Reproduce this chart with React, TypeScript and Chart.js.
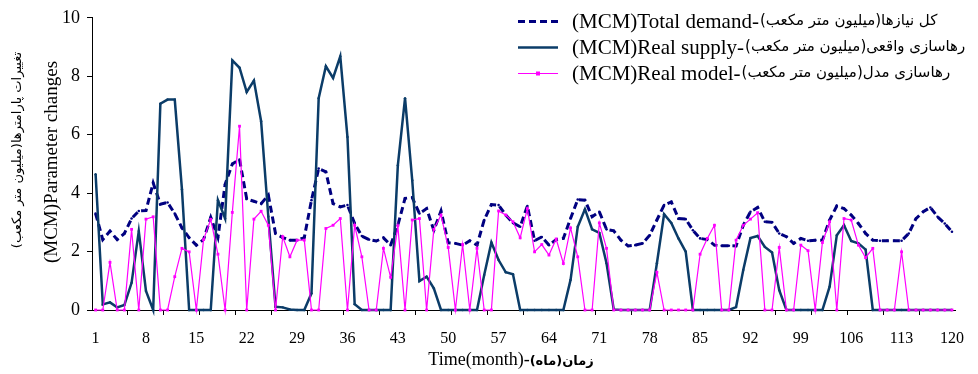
import React, { useEffect, useRef } from 'react';
import { Chart, registerables } from 'chart.js';

Chart.register(...registerables);

const months: number[] = Array.from({ length: 120 }, (_, i) => i + 1);
const xLabelTicks = [1, 8, 15, 22, 29, 36, 43, 50, 57, 64, 71, 78, 85, 92, 99, 106, 113, 120];
const xMarkTicks = [5.5, 10.5, 15.5, 20.5, 25.5, 30.5, 35.5, 40.5, 45.5, 50.5, 55.5, 60.5, 65.5, 70.5, 75.5, 80.5, 85.5, 90.5, 95.5, 100.5, 105.5, 110.5, 115.5];
const yTicks = [0, 2, 4, 6, 8, 10];

const totalDemand = [
  3.3, 2.41, 2.7, 2.41, 2.62, 3.13, 3.39, 3.4, 4.35, 3.62,
  3.68, 3.3, 2.81, 2.47, 2.22, 2.41, 3.17, 2.48, 4.3, 5.0,
  5.15, 3.8, 3.72, 3.64, 3.93, 2.62, 2.48, 2.39, 2.39, 2.48,
  3.76, 4.84, 4.73, 3.64, 3.53, 3.59, 2.96, 2.53, 2.41, 2.36,
  2.47, 2.22, 2.9, 3.82, 3.85, 3.3, 3.47, 2.73, 3.39, 2.3,
  2.28, 2.22, 2.37, 2.22, 3.08, 3.61, 3.59, 3.25, 2.98, 2.85,
  3.56, 2.37, 2.5, 2.22, 2.41, 2.45, 3.13, 3.78, 3.76, 3.19,
  3.36, 2.76, 2.71, 2.39, 2.19, 2.22, 2.28, 2.56, 3.08, 3.59,
  3.7, 3.13, 3.11, 2.73, 2.45, 2.41, 2.22, 2.2, 2.2, 2.19,
  2.9, 3.36, 3.51, 3.02, 3.0, 2.62, 2.51, 2.28, 2.45, 2.37,
  2.39, 2.39, 3.08, 3.56, 3.47, 3.25, 2.96, 2.62, 2.39, 2.37,
  2.37, 2.37, 2.37, 2.62, 3.13, 3.36, 3.51, 3.19, 2.96, 2.68,
];

const realSupply = [
  4.65, 0.19, 0.26, 0.09, 0.17, 0.93, 2.7, 0.65, 0, 7.06,
  7.2, 7.2, 4.13, 0, 0, 0, 0, 3.76, 3.13, 8.54,
  8.29, 7.46, 7.85, 6.46, 3.2, 0.11, 0.09, 0.02, 0, 0,
  0.57, 7.25, 8.34, 7.94, 8.68, 5.92, 0.2, 0, 0, 0,
  0, 0, 4.95, 7.25, 4.44, 0.99, 1.14, 0.74, 0, 0,
  0, 0, 0, 0, 1.2, 2.31, 1.71, 1.29, 1.22, 0,
  0, 0, 0, 0, 0, 0, 1.03, 2.85, 3.45, 2.76,
  2.64, 1.6, 0.02, 0, 0, 0, 0, 0, 1.6, 3.28,
  2.98, 2.45, 2.0, 0, 0, 0, 0, 0, 0, 0.1,
  1.37, 2.46, 2.53, 2.16, 1.97, 0.68, 0, 0, 0, 0,
  0, 0, 0.8, 2.56, 2.9, 2.36, 2.28, 2.07, 0, 0,
  0, 0, 0, 0, 0, 0, 0, 0, 0, 0,
];

const realModel = [
  0, 0, 1.63, 0, 0, 2.76, 0, 3.11, 3.19, 0,
  0, 1.14, 2.11, 1.99, 0, 2.41, 3.1, 1.91, 0, 3.34,
  6.29, 0, 3.11, 3.38, 2.9, 0, 2.51, 1.82, 2.39, 2.39,
  0, 0, 2.79, 2.9, 3.13, 0, 2.9, 1.82, 0, 0,
  2.11, 1.12, 2.88, 0, 3.08, 3.13, 0, 2.76, 3.25, 2.14,
  0, 2.24, 0, 2.11, 0, 0, 3.39, 3.25, 3.02, 2.47,
  3.47, 1.99, 2.24, 1.88, 2.43, 1.59, 2.81, 1.82, 0, 0,
  2.98, 2.11, 0, 0, 0, 0, 0, 0, 1.29, 0,
  0, 0, 0, 0, 1.91, 2.45, 2.9, 0, 0, 2.39,
  2.9, 3.11, 3.33, 0, 0, 2.14, 0, 0, 2.22, 2.03,
  0, 2.31, 3.02, 0, 3.13, 3.08, 2.22, 1.79, 2.11, 0,
  0, 0, 1.99, 0, 0, 0, 0, 0, 0, 0,
];

const legendEn = ['(MCM)Total demand-', '(MCM)Real supply-', '(MCM)Real model-'];
const legendFa = ['کل نیازها(میلیون متر مکعب)', 'رهاسازی واقعی(میلیون متر مکعب)', 'رهاسازی مدل(میلیون متر مکعب)'];
const yTitleFa = 'تغییرات پارامترها(میلیون متر مکعب)';
const yTitleEn = '(MCM)Parameter changes';
const xTitleEn = 'Time(month)-';
const xTitleFa = 'زمان(ماه)';

const C_DEMAND = '#000080';
const C_SUPPLY = '#0B3C68';
const C_MODEL = '#FF00FF';
const SERIF = "'Liberation Serif', 'Times New Roman', serif";
const SANS = "'DejaVu Sans', sans-serif";

const textPlugin = {
  id: 'customText',
  afterDraw(chart: any) {
    const ctx: CanvasRenderingContext2D = chart.ctx;
    ctx.save();
    ctx.fillStyle = '#000';

    // Y axis titles (rotated)
    ctx.save();
    ctx.translate(18, 150);
    ctx.rotate(-Math.PI / 2);
    ctx.font = `13px ${SANS}`;
    ctx.direction = 'rtl';
    ctx.textAlign = 'center';
    ctx.textBaseline = 'middle';
    ctx.fillText(yTitleFa, 0, 0);
    ctx.restore();

    ctx.save();
    ctx.translate(52, 162);
    ctx.rotate(-Math.PI / 2);
    ctx.font = `19px ${SERIF}`;
    ctx.direction = 'ltr';
    ctx.textAlign = 'center';
    ctx.textBaseline = 'middle';
    ctx.fillText(yTitleEn, 0, 0);
    ctx.restore();

    // X axis title
    ctx.font = `18px ${SERIF}`;
    ctx.direction = 'ltr';
    ctx.textAlign = 'left';
    ctx.textBaseline = 'alphabetic';
    const wEn = ctx.measureText(xTitleEn).width;
    ctx.font = `bold 13px ${SANS}`;
    const wFa = ctx.measureText(xTitleFa).width;
    const x0 = 511 - (wEn + wFa) / 2;
    ctx.font = `18px ${SERIF}`;
    ctx.fillText(xTitleEn, x0, 365);
    ctx.font = `bold 13px ${SANS}`;
    ctx.direction = 'rtl';
    ctx.textAlign = 'left';
    ctx.fillText(xTitleFa, x0 + wEn, 365);

    // Legend
    const rows = [21.5, 47.5, 73.5];
    const lx0 = 518;
    const lx1 = 558;
    rows.forEach((ry, i) => {
      ctx.save();
      ctx.beginPath();
      ctx.moveTo(lx0, ry);
      ctx.lineTo(lx1, ry);
      if (i === 0) {
        ctx.strokeStyle = C_DEMAND;
        ctx.lineWidth = 3;
        ctx.setLineDash([7, 4]);
      } else if (i === 1) {
        ctx.strokeStyle = C_SUPPLY;
        ctx.lineWidth = 2.5;
      } else {
        ctx.strokeStyle = C_MODEL;
        ctx.lineWidth = 1.2;
      }
      ctx.stroke();
      ctx.setLineDash([]);
      if (i === 2) {
        ctx.fillStyle = C_MODEL;
        ctx.fillRect((lx0 + lx1) / 2 - 2, ry - 2, 4, 4);
      }
      ctx.restore();

      ctx.fillStyle = '#000';
      ctx.font = `21px ${SERIF}`;
      ctx.direction = 'ltr';
      ctx.textAlign = 'left';
      ctx.textBaseline = 'middle';
      ctx.fillText(legendEn[i], 572, ry + 1);
      const w = ctx.measureText(legendEn[i]).width;
      ctx.font = `15px ${SANS}`;
      ctx.direction = 'rtl';
      ctx.textAlign = 'left';
      ctx.fillText(legendFa[i], 572 + w + 1, ry);
    });

    ctx.restore();
  },
};

export default function App() {
  const canvasRef = useRef<HTMLCanvasElement | null>(null);

  useEffect(() => {
    if (!canvasRef.current) return;
    Chart.defaults.font.family = SERIF;
    const toPts = (arr: number[]) => months.map((m, i) => ({ x: m, y: arr[i] }));
    const chart = new Chart(canvasRef.current, {
      type: 'line',
      data: {
        datasets: [
          {
            label: 'Total demand',
            data: toPts(totalDemand),
            borderColor: C_DEMAND,
            backgroundColor: C_DEMAND,
            borderWidth: 3,
            borderDash: [7, 4],
            pointRadius: 1.3,
            pointBorderWidth: 0,
            pointBackgroundColor: C_DEMAND,
            tension: 0,
            order: 2,
            clip: false,
          } as any,
          {
            label: 'Real supply',
            data: toPts(realSupply),
            borderColor: C_SUPPLY,
            backgroundColor: C_SUPPLY,
            borderWidth: 2.5,
            pointRadius: 1.2,
            pointBorderWidth: 0,
            pointBackgroundColor: C_SUPPLY,
            tension: 0,
            order: 1,
            clip: false,
          } as any,
          {
            label: 'Real model',
            data: toPts(realModel),
            borderColor: C_MODEL,
            backgroundColor: C_MODEL,
            borderWidth: 1.2,
            pointStyle: 'rect',
            pointRadius: 2,
            pointBorderWidth: 0,
            pointBackgroundColor: C_MODEL,
            tension: 0,
            order: 0,
            clip: false,
          } as any,
        ],
      },
      options: {
        responsive: false,
        animation: false,
        devicePixelRatio: 1,
        layout: {
          autoPadding: false,
          padding: { left: 0, right: 12, top: 17, bottom: 0 },
        } as any,
        plugins: {
          legend: { display: false },
          tooltip: { enabled: false },
        },
        scales: {
          x: {
            type: 'linear',
            min: 0.5,
            max: 120.5,
            afterBuildTicks: (scale: any) => {
              const vals = [...xLabelTicks, ...xMarkTicks].sort((a, b) => a - b);
              scale.ticks = vals.map((v) => ({ value: v }));
            },
            afterFit: (scale: any) => {
              scale.height = 64;
            },
            ticks: {
              autoSkip: false,
              maxRotation: 0,
              minRotation: 0,
              padding: 14,
              color: '#000',
              font: { size: 16, family: SERIF },
              callback: (v: any) => (xLabelTicks.includes(Number(v)) ? String(v) : ''),
            },
            grid: {
              drawOnChartArea: false,
              drawTicks: true,
              tickLength: 5,
              tickColor: (c: any) =>
                c.tick && Number.isInteger(c.tick.value) ? 'rgba(0,0,0,0)' : '#000',
            },
            border: { display: true, color: '#000', width: 1 },
          },
          y: {
            type: 'linear',
            min: 0,
            max: 10,
            afterBuildTicks: (scale: any) => {
              scale.ticks = yTicks.map((v) => ({ value: v }));
            },
            afterFit: (scale: any) => {
              scale.width = 92;
            },
            ticks: {
              padding: 7,
              color: '#000',
              font: { size: 18, family: SERIF },
            },
            grid: {
              drawOnChartArea: false,
              drawTicks: true,
              tickLength: 5,
              tickColor: '#000',
            },
            border: { display: true, color: '#000', width: 1 },
          },
        },
      } as any,
      plugins: [textPlugin],
    });
    return () => chart.destroy();
  }, []);

  return (
    <div style={{ position: 'absolute', left: 0, top: 0, width: 978, height: 374, background: '#fff' }}>
      <canvas ref={canvasRef} width={978} height={374} style={{ display: 'block' }} />
    </div>
  );
}
